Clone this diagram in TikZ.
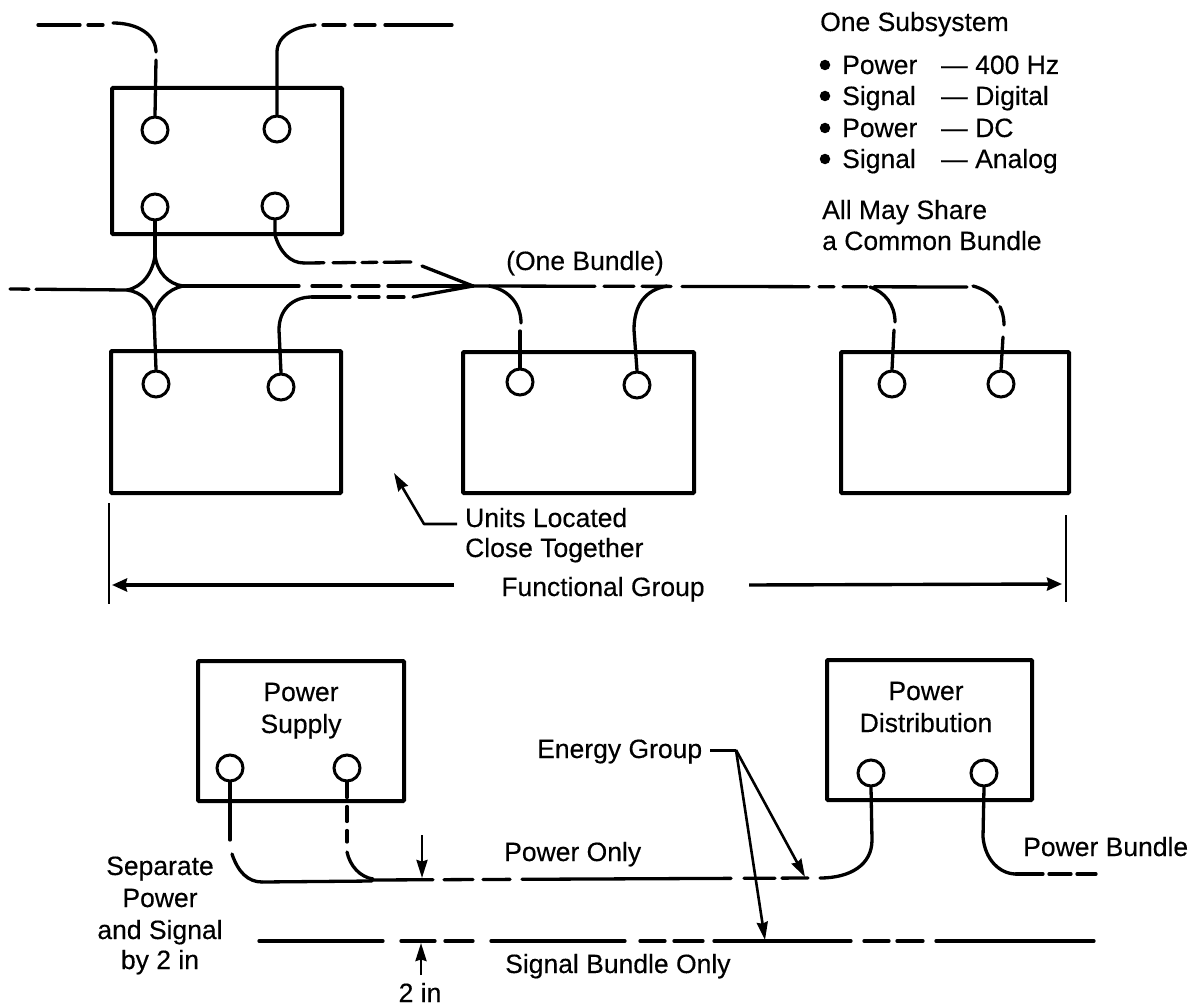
\documentclass[tikz,border=0pt]{standalone}
\usepackage{fontspec}
\setmainfont{Liberation Sans}[AutoFakeBold=0.3]
\usetikzlibrary{arrows.meta}
\tikzset{
  unit/.style={draw=black,line width=4pt,fill=none,rounded corners=1pt},
  port/.style={draw=black,line width=3pt,circle,minimum size=26pt,inner sep=0pt},
  wire/.style={line width=3.3pt,line cap=round,black},
  leader/.style={line width=2.6pt,black,-{Stealth[inset=1.5pt,length=18pt,width=11pt]}},
  heavy leader/.style={line width=3.4pt,black,-{Stealth[inset=1.5pt,length=15pt,width=13pt]}},
  label/.style={inner sep=0pt,anchor=base west,font=\fontsize{26.5}{30}\selectfont\bfseries,text=black},
  clabel/.style={inner sep=0pt,anchor=base,font=\fontsize{26.5}{30}\selectfont\bfseries,text=black},
  bulletmark/.style={circle,fill=black,inner sep=0pt,minimum size=10.5pt},
}
\begin{document}
\begin{tikzpicture}[x=1pt,y=-1pt]
\useasboundingbox (0,0) rectangle (1196,1006);
% units
\draw[unit] (112,88) rectangle (342,234);
\draw[unit] (111,351) rectangle (341,493);
\draw[unit] (463,352) rectangle (694,493);
\draw[unit] (841,352) rectangle (1069,493);
\draw[unit] (198,661) rectangle (404,801);
\draw[unit] (827,660) rectangle (1032,800);
% ports
\node[port] (a1) at (155,130) {};
\node[port] (a2) at (277,129) {};
\node[port] (a3) at (155,207) {};
\node[port] (a4) at (275,206) {};
\node[port] (b1) at (156,384) {};
\node[port] (b2) at (281,387) {};
\node[port] (c1) at (520,382) {};
\node[port] (c2) at (637,385) {};
\node[port] (d1) at (892,384) {};
\node[port] (d2) at (1001,384) {};
\node[port] (s1) at (230,768) {};
\node[port] (s2) at (347,768) {};
\node[port] (p1) at (871,773) {};
\node[port] (p2) at (984,773) {};
% junction coordinates
\coordinate (apex) at (473,286);
\coordinate (starT) at (155,255);
\coordinate (starR) at (183,286);
\coordinate (starB) at (154,315);
\coordinate (starL) at (127,290);
\coordinate (westEnd) at (10,289);
% top wires
\coordinate (tl) at (38,25);
\coordinate (tlb) at (103,25);
\coordinate (tlc) at (113,23);
\coordinate (tld) at (156,52);
\coordinate (tle) at (156,60);
\draw[wire,dash pattern=on 42pt off 8pt on 15pt off 200pt] (tl) -- (tlb);
\draw[wire] (tlc) .. controls (138,23) and (156,35) .. (tld);
\draw[wire] (tle) -- (a1.north);
\coordinate (tra) at (315,25);
\coordinate (trb) at (452,25);
\draw[wire] (a2.north) -- (277,52) .. controls (277,36) and (295,26) .. (tra);
\draw[wire,dash pattern=on 0pt off 8pt on 22pt off 10pt on 20pt off 10pt on 80pt] (tra) -- (trb);
% star
\draw[wire] (a3.south) -- (starT);
\draw[wire] (starB) -- (b1.north);
\draw[wire] (starT) .. controls (153,272) and (143,287) .. (starL)
            (starT) .. controls (157,272) and (168,284) .. (starR)
            (starB) .. controls (152,303) and (142,292) .. (starL)
            (starB) .. controls (156,302) and (168,289) .. (starR);
\draw[wire,dash pattern=on 19pt off 7pt on 200pt] (westEnd) -- (starL);
\draw[wire,dash pattern=on 116pt off 13pt on 29pt off 11pt on 27pt off 9pt on 200pt] (starR) -- (apex);
% converging branches
\coordinate (ua) at (304,263);
\coordinate (ub) at (411,262);
\coordinate (uc) at (422,266);
\draw[wire] (a4.south) -- (275,235) .. controls (280,252) and (290,263) .. (ua);
\draw[wire,dash pattern=on 20pt off 9pt on 22pt off 7pt on 15pt off 7pt on 27pt] (ua) -- (ub);
\draw[wire] (uc) -- (apex);
\coordinate (la) at (312,297);
\coordinate (lb) at (404,297);
\coordinate (lc) at (413,297);
\draw[wire] (b2.north) -- (279,330) .. controls (279,310) and (292,297) .. (la);
\draw[wire,dash pattern=on 38pt off 9pt on 20pt off 9pt on 16pt] (la) -- (lb);
\draw[wire] (lc) -- (apex);
% bundle to the right
\coordinate (bundleEnd) at (967,287);
\draw[wire,dash pattern=on 122pt off 9pt on 30pt off 8pt on 29pt off 11pt on 127pt off 10pt on 15pt off 9pt on 24pt off 7pt on 97pt] (apex) -- (bundleEnd);
\draw[wire] (489,286) .. controls (510,290) and (521,305) .. (521,323);
\draw[wire] (520,331) -- (c1.north);
\draw[wire] (c2.north) -- (634,330) .. controls (634,305) and (645,290) .. (667,286);
\draw[wire] (870,287) .. controls (885,292) and (895,305) .. (895,322);
\draw[wire] (894,330) -- (d1.north);
\draw[wire,dash pattern=on 30pt off 5pt on 30pt] (973,286) .. controls (992,291) and (1004,305) .. (1004,325);
\draw[wire] (1003,337) -- (d2.north);
% group brackets
\coordinate (gl1) at (109,503);
\coordinate (gl2) at (109,604);
\coordinate (gr1) at (1066,515);
\coordinate (gr2) at (1066,602);
\draw[line width=2.2pt] (gl1) -- (gl2);
\draw[line width=2.2pt] (gr1) -- (gr2);
\node[clabel] (fg) at (603,596) {Functional Group};
\coordinate (fgl) at (454,585);
\coordinate (fgr) at (749,585);
\draw[heavy leader] (fgl) -- (112,585);
\draw[heavy leader] (fgr) -- (1062,584);
% units located
\node[label] (ul) at (465,527) {Units Located};
\node[label] (ct) at (465,557) {Close Together};
\coordinate (ulb) at (424,524);
\draw[leader,line join=round] (457,524) -- (ulb) -- (394,473);
% power lines
\coordinate (pa) at (262,882);
\coordinate (pb) at (808,878);
\draw[wire] (s1.south) -- (230,840);
\draw[wire] (232,854) .. controls (238,872) and (248,882) .. (pa);
\draw[wire] (pa) -- (372,881);
\draw[wire,dash pattern=on 15pt off 9pt on 15pt off 9pt on 40pt] (s2.south) -- (347,842);
\draw[wire] (347,852) .. controls (350,866) and (360,877) .. (373,879);
\draw[wire,dash pattern=on 61pt off 11pt on 29pt off 10pt on 27pt off 12pt on 209pt off 13pt on 31pt off 7pt on 26pt] (372,880) -- (pb);
\draw[wire] (p1.south) -- (872,840) .. controls (872,865) and (850,878) .. (820,878);
\draw[wire] (p2.south) -- (983,837) .. controls (985,860) and (1000,874) .. (1016,874);
\draw[wire,dash pattern=on 27pt off 6pt on 22pt off 6pt on 19pt] (1016,874) -- (1096,874);
% signal line
\coordinate (sa) at (259,941);
\coordinate (sb) at (1094,941);
\draw[wire,dash pattern=on 124pt off 18pt on 34pt off 10pt on 28pt off 18pt on 134pt off 15pt on 25pt off 9pt on 29pt off 11pt on 137pt off 13pt on 25pt off 8pt on 26pt off 13pt on 158pt] (sa) -- (sb);
% 2 in
\coordinate (ia) at (422,835);
\coordinate (ib) at (422,878);
\coordinate (ic) at (421,975);
\coordinate (id) at (421,943);
\draw[leader] (ia) -- (ib);
\draw[leader] (ic) -- (id);
% energy group
\node[label] (eg) at (537,758) {Energy Group};
\coordinate (ega) at (710,750);
\coordinate (egb) at (736,750);
\draw[line width=3pt] (ega) -- (egb);
\draw[leader] (egb) -- (805,877);
\draw[leader] (egb) -- (765,940);
% labels
\node[clabel] (ob) at (585,270) {(One Bundle)};
\node[clabel] (ps1) at (301,701) {Power};
\node[clabel] (ps2) at (301,733) {Supply};
\node[clabel] (pd1) at (926,700) {Power};
\node[clabel] (pd2) at (926,732) {Distribution};
\node[label] (po) at (504,861) {Power Only};
\node[label] (so) at (505,973) {Signal Bundle Only};
\node[label] (pbn) at (1023,856) {Power Bundle};
\node[clabel] (two) at (420,1002) {2 in};
\node[clabel] (sp1) at (160,875) {Separate};
\node[clabel] (sp2) at (160,907) {Power};
\node[clabel] (sp3) at (160,939) {and Signal};
\node[clabel] (sp4) at (160,969) {by 2 in};
% legend
\node[label] (os) at (820,31) {One Subsystem};
\node[bulletmark] (b1t) at (825,65) {};
\node[bulletmark] (b2t) at (825,96) {};
\node[bulletmark] (b3t) at (825,128) {};
\node[bulletmark] (b4t) at (825,159) {};
\node[label] (r1) at (842,74) {Power};
\node[label] (r2) at (842,105) {Signal};
\node[label] (r3) at (842,137) {Power};
\node[label] (r4) at (842,168) {Signal};
\node[label] (d1t) at (941,74) {—};
\node[label] (d2t) at (941,105) {—};
\node[label] (d3t) at (941,137) {—};
\node[label] (d4t) at (941,168) {—};
\node[label] (v1) at (975,74) {400 Hz};
\node[label] (v2) at (975,105) {Digital};
\node[label] (v3) at (975,137) {DC};
\node[label] (v4) at (975,168) {Analog};
\node[label] (all1) at (822,219) {All May Share};
\node[label] (all2) at (822,250) {a Common Bundle};
\end{tikzpicture}
\end{document}
